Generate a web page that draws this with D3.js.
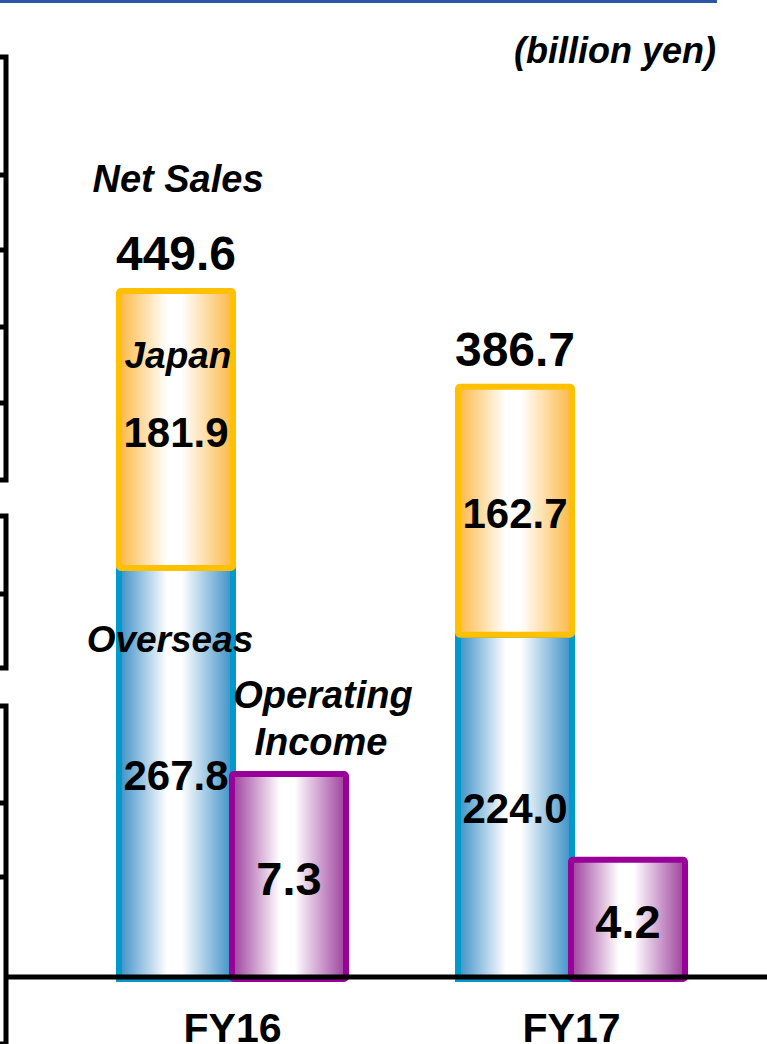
<!DOCTYPE html>
<html>
<head>
<meta charset="utf-8">
<script src="https://cdn.jsdelivr.net/npm/d3@7"></script>
<style>
  html, body { margin: 0; padding: 0; background: #fff; }
  svg { display: block; }
  text { font-family: "Liberation Sans", Arial, sans-serif; font-weight: bold; fill: #000; }
</style>
</head>
<body>
<div id="chart"></div>
<script>
// data (billion yen)
const years = ["FY16", "FY17"];
const overseas = [267.8, 224.0];
const japan = [181.9, 162.7];
const netSales = [449.6, 386.7];
const operatingIncome = [7.3, 4.2];
const unitLabel = "(billion yen)";

// bits of the neighbouring panel cut off at the left edge
const leftBrackets = [[57, 480], [516, 668], [706, 1044]];
const leftTicks = [175, 250, 327, 403, 594, 803, 877];

const width = 767;
const height = 1044;

const svg = d3.select("#chart").append("svg")
  .attr("width", width)
  .attr("height", height);

const defs = svg.append("defs");
function gradient(id, edge) {
  const g = defs.append("linearGradient").attr("id", id)
    .attr("x1", 0).attr("x2", 1).attr("y1", 0).attr("y2", 0);
  g.append("stop").attr("offset", "0%").attr("stop-color", edge);
  g.append("stop").attr("offset", "42%").attr("stop-color", "#ffffff");
  g.append("stop").attr("offset", "55%").attr("stop-color", "#ffffff");
  g.append("stop").attr("offset", "100%").attr("stop-color", edge);
}
gradient("gOrange", "#fbb844");
gradient("gBlue", "#3a8fc6");
gradient("gPurple", "#9c3f9c");

// scales
const x = d3.scaleBand().domain(years).range([116, 688]).paddingInner(0.3127);
const y = d3.scaleLinear().domain([0, 449.6]).range([976, 291]);
const y2 = d3.scaleLinear().domain([0, 7.3]).range([976, 774]);
const barW = 114;
const salesX = d => x(d) + 3;
const opX = d => x(d) + 116;

// top rule
svg.append("line")
  .attr("x1", 0).attr("x2", 717).attr("y1", 1.5).attr("y2", 1.5)
  .attr("stroke", "#2a58a6").attr("stroke-width", 3);

// left fragments
const left = svg.append("g").attr("stroke", "#000").attr("stroke-width", 5).attr("fill", "none");
left.selectAll("path").data(leftBrackets).join("path")
  .attr("d", d => `M0,${d[0]} H6 V${d[1]} H0`);
left.selectAll("line").data(leftTicks).join("line")
  .attr("x1", 0).attr("x2", 8).attr("y1", d => d).attr("y2", d => d);

// overseas (blue)
svg.append("g").selectAll("rect").data(years).join("rect")
  .attr("x", d => salesX(d))
  .attr("y", (d, i) => y(overseas[i]))
  .attr("width", barW)
  .attr("height", (d, i) => y(0) - y(overseas[i]) + 3)
  .attr("fill", "url(#gBlue)")
  .attr("stroke", "#0099cc").attr("stroke-width", 6);

// japan (orange) on top
svg.append("g").selectAll("rect").data(years).join("rect")
  .attr("x", d => salesX(d))
  .attr("y", (d, i) => y(netSales[i]))
  .attr("width", barW)
  .attr("height", (d, i) => y(overseas[i]) - y(netSales[i]))
  .attr("rx", 2)
  .attr("fill", "url(#gOrange)")
  .attr("stroke", "#ffc000").attr("stroke-width", 6);

// operating income (purple)
svg.append("g").selectAll("rect").data(years).join("rect")
  .attr("x", d => opX(d))
  .attr("y", (d, i) => y2(operatingIncome[i]))
  .attr("width", barW)
  .attr("height", (d, i) => y2(0) - y2(operatingIncome[i]) + 3)
  .attr("rx", 2)
  .attr("fill", "url(#gPurple)")
  .attr("stroke", "#990099").attr("stroke-width", 6);

// baseline
svg.append("line")
  .attr("x1", 6).attr("x2", width).attr("y1", y(0) + 1).attr("y2", y(0) + 1)
  .attr("stroke", "#000").attr("stroke-width", 5);

// category axis
const axis = svg.append("g")
  .attr("transform", `translate(0,${y(0)})`)
  .call(d3.axisBottom(x).tickSize(0).tickPadding(36));
axis.select(".domain").remove();
axis.selectAll("text")
  .attr("font-size", 41)
  .attr("font-family", "'Liberation Sans', Arial, sans-serif")
  .attr("font-weight", "bold")
  .attr("fill", "#000")
  .attr("dy", "0.72em");

// value labels
const labels = svg.append("g").attr("text-anchor", "middle");
labels.selectAll(".total").data(years).join("text")
  .attr("class", "total")
  .attr("x", d => salesX(d) + barW / 2)
  .attr("y", (d, i) => y(netSales[i]) - 21)
  .attr("font-size", 48)
  .text((d, i) => netSales[i].toFixed(1));
labels.selectAll(".jp").data(years).join("text")
  .attr("class", "jp")
  .attr("x", d => salesX(d) + barW / 2)
  .attr("y", (d, i) => (y(netSales[i]) + y(overseas[i])) / 2)
  .attr("dy", "0.42em")
  .attr("font-size", 42)
  .text((d, i) => japan[i].toFixed(1));
labels.selectAll(".os").data(years).join("text")
  .attr("class", "os")
  .attr("x", d => salesX(d) + barW / 2)
  .attr("y", (d, i) => (y(overseas[i]) + y(0)) / 2)
  .attr("dy", "0.42em")
  .attr("font-size", 42)
  .text((d, i) => overseas[i].toFixed(1));
labels.selectAll(".op").data(years).join("text")
  .attr("class", "op")
  .attr("x", d => opX(d) + barW / 2)
  .attr("y", (d, i) => (y2(operatingIncome[i]) + y2(0)) / 2)
  .attr("dy", "0.42em")
  .attr("font-size", 47)
  .text((d, i) => operatingIncome[i].toFixed(1));

// series names (italic)
const names = svg.append("g").attr("text-anchor", "middle")
  .attr("font-style", "italic").attr("font-size", 38);
const cx = salesX(years[0]) + barW / 2;
names.append("text").attr("x", cx + 2).attr("y", y(netSales[0]) - 99).text("Net Sales");
names.append("text").attr("x", cx + 2).attr("y", y(netSales[0]) + 77).attr("font-size", 37).text("Japan");
names.append("text").attr("x", cx - 6).attr("y", y(overseas[0]) + 84).attr("font-size", 37).text("Overseas");
const ox = opX(years[0]) + barW / 2 + 34;
names.append("text").attr("x", ox).attr("y", y2(operatingIncome[0]) - 66).text("Operating");
names.append("text").attr("x", ox - 2).attr("y", y2(operatingIncome[0]) - 19).text("Income");

svg.append("text")
  .attr("x", 716).attr("y", 63)
  .attr("text-anchor", "end")
  .attr("font-style", "italic")
  .attr("font-size", 36)
  .text(unitLabel);
</script>
</body>
</html>
